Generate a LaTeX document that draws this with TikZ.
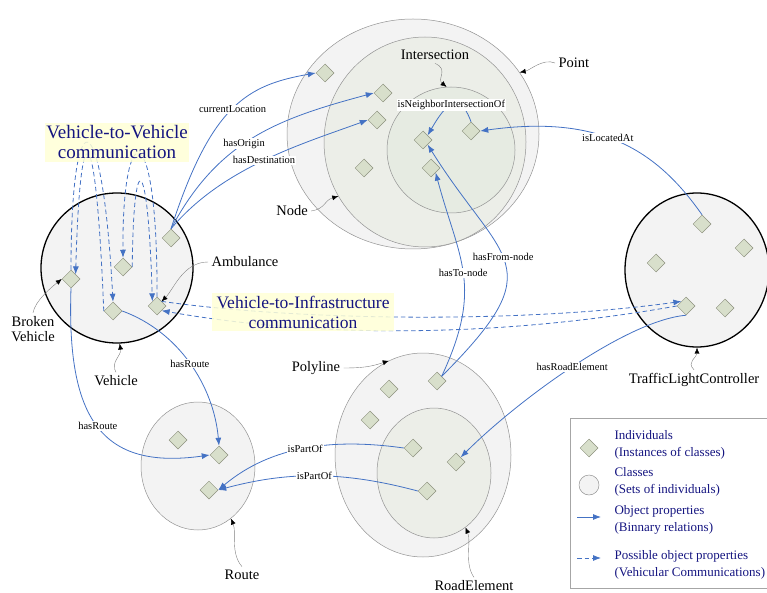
\documentclass[tikz,border=0pt]{standalone}
\usepackage{fontspec}
\setmainfont{Liberation Serif}
\usetikzlibrary{arrows.meta, shapes.geometric}

\definecolor{propblue}{RGB}{68,114,196}
\definecolor{commnavy}{RGB}{20,20,128}
\definecolor{indfill}{RGB}{216,223,203}
\definecolor{indedge}{RGB}{140,145,125}
\definecolor{clsfill}{RGB}{243,243,243}
\definecolor{subfill}{RGB}{236,238,232}
\definecolor{subsubfill}{RGB}{230,235,226}
\definecolor{notefill}{RGB}{255,255,214}

\begin{document}
\begin{tikzpicture}[x=1pt, y=1pt,
    cls/.style={draw=gray!85, line width=0.5pt, fill=#1, ellipse, inner sep=0pt},
    cls/.default=clsfill,
    bigcls/.style={draw=black, line width=1.3pt, fill=clsfill, ellipse, inner sep=0pt},
    indiv/.style={draw=indedge, line width=0.5pt, fill=indfill, diamond, inner sep=0pt, minimum width=18pt, minimum height=18pt},
    prop/.style={draw=propblue, line width=0.8pt, -{Latex[length=8pt, width=6pt]}},
    commprop/.style={prop, dash pattern=on 4.5pt off 3pt},
    proplabel/.style={font=\fontsize{10.5}{12}\selectfont, fill=white, inner sep=1pt},
    clslabel/.style={font=\fontsize{14.5}{15}\selectfont, align=center},
    pointer/.style={draw=gray, line width=0.4pt, -{Latex[color=black, length=6pt, width=5pt]}},
    commnote/.style={fill=notefill, fill opacity=0.85, text opacity=1, text=commnavy, align=center, inner sep=1pt},
    legtext/.style={text=commnavy, font=\fontsize{13}{17}\selectfont, align=left, anchor=west}
]
\useasboundingbox (0,0) rectangle (767,-593);

% --- Classes ---
\node[cls, minimum width=252, minimum height=230] (pointcls) at (413,-134) {};
\node[cls=subfill, minimum width=202, minimum height=210] (nodecls) at (425,-142) {};
\node[cls=subsubfill, minimum width=128, minimum height=126] (intercls) at (451,-150) {};
\node[bigcls, minimum width=152, minimum height=150] (vehiclecls) at (117,-268) {};
\node[cls, minimum width=114, minimum height=128] (routecls) at (198,-466) {};
\node[cls, minimum width=176, minimum height=204] (polycls) at (423,-455) {};
\node[cls=subfill, minimum width=114, minimum height=130] (roadcls) at (434,-473) {};
\node[bigcls, minimum width=144, minimum height=154] (tlccls) at (697,-270) {};

% --- Individuals ---
\node[indiv] (ptA) at (325,-73) {};
\node[indiv] (ndA) at (383,-93) {};
\node[indiv] (ndB) at (377,-120) {};
\node[indiv] (ndC) at (364,-168) {};
\node[indiv] (isA) at (423,-140) {};
\node[indiv] (isB) at (471,-131) {};
\node[indiv] (isC) at (431,-168) {};

\node[indiv] (vhA) at (171,-238) {};
\node[indiv] (vhB) at (123,-267) {};
\node[indiv] (vhBroken) at (71,-279) {};
\node[indiv] (vhC) at (113,-311) {};
\node[indiv] (vhAmb) at (157,-306) {};

\node[indiv] (rtA) at (178,-440) {};
\node[indiv] (rtB) at (219,-455) {};
\node[indiv] (rtC) at (209,-490) {};

\node[indiv] (plA) at (437,-381) {};
\node[indiv] (plB) at (389,-389) {};
\node[indiv] (plC) at (370,-420) {};
\node[indiv] (reA) at (413,-448) {};
\node[indiv] (reB) at (456,-462) {};
\node[indiv] (reC) at (427,-491) {};

\node[indiv] (tlA) at (702,-224) {};
\node[indiv] (tlB) at (744,-248) {};
\node[indiv] (tlC) at (656,-263) {};
\node[indiv] (tlD) at (686,-306) {};
\node[indiv] (tlE) at (725,-308) {};

% --- Object properties ---
\draw[prop] (vhA.north) .. controls +(72:130) and +(190:70) .. (ptA.west) node[proplabel, pos=0.5] {currentLocation};
\draw[prop] (vhA.north) .. controls +(62:100) and +(195:100) .. (ndA.west) node[proplabel, pos=0.45] {hasOrigin};
\draw[prop] (vhA.north) .. controls +(50:80) and +(200:70) .. (ndB.west) node[proplabel, pos=0.5] {hasDestination};
\draw[prop] (isB.north) .. controls +(110:35) and +(60:35) .. (isA.north east) node[proplabel, pos=0.5] {isNeighborIntersectionOf};
\draw[prop] (tlA.north) .. controls +(125:80) and +(8:120) .. (isB.east) node[proplabel, pos=0.55] {isLocatedAt};
\draw[prop] (plA.north east) .. controls +(65:100) and +(-75:90) .. (isC.south east) node[proplabel, pos=0.5] {hasTo-node};
\draw[prop] (plA.north east) .. controls +(45:160) and +(-58:140) .. (isA.south east) node[proplabel, pos=0.53] {hasFrom-node};
\draw[prop] (tlD.south) .. controls +(185:60) and +(45:80) .. (reB.north east) node[proplabel, pos=0.5] {hasRoadElement};
\draw[prop] (vhC.east) .. controls +(-20:60) and +(95:60) .. (rtB.north) node[proplabel, pos=0.5] {hasRoute};
\draw[prop] (vhBroken.south) .. controls +(-92:130) and +(188:110) .. (rtB.west) node[proplabel, pos=0.5] {hasRoute};
\draw[prop] (reA.west) .. controls +(172:70) and +(40:70) .. (rtC.east) node[proplabel, pos=0.5] {isPartOf};
\draw[prop] (reC.west) .. controls +(165:80) and +(15:70) .. (rtC.east) node[proplabel, pos=0.5] {isPartOf};

% --- Vehicular communications ---
\draw[commprop] (vhBroken.north) .. controls +(0,174) and +(-11,206) .. (vhC.north);
\draw[commprop] (vhC.west) .. controls +(-8,202) and +(4.5,165.5) .. (vhBroken.north east);
\draw[commprop] (vhAmb.north) .. controls +(1,183) and +(-1,144) .. (vhB.north);
\draw[commprop] (vhB.east) .. controls +(1,119) and +(-4.5,153.5) .. (vhAmb.north west);
\draw[commprop] (vhAmb.north east) .. controls +(-8:150) and +(188:150) .. (tlD.north west);
\draw[commprop] (tlD.west) .. controls +(190:170) and +(-10:170) .. (vhAmb.south east);

\node[commnote, font=\fontsize{19}{20}\selectfont, minimum width=144, minimum height=39] (v2vnote) at (117,-142.5) {Vehicle-to-Vehicle\\communication};
\node[commnote, font=\fontsize{17.5}{20}\selectfont, minimum width=182, minimum height=38] (v2inote) at (303,-312) {Vehicle-to-Infrastructure\\communication};

% --- Class labels ---
\node[clslabel, anchor=west] (pointlbl) at (555,-63) {Point};
\draw[pointer] (pointlbl.west) .. controls +(-12,5) and +(10,2) .. (pointcls.30);
\node[clslabel] (interlbl) at (435,-55) {Intersection};
\draw[pointer] (interlbl.south) .. controls +(14,-6) and +(-10,8) .. (intercls.94);
\node[clslabel] (nodelbl) at (292,-211) {Node};
\draw[pointer] (nodelbl.east) .. controls +(14,2) and +(-14,-4) .. (nodecls.212);
\node[clslabel] (amblbl) at (245,-262) {Ambulance};
\draw[pointer] (amblbl.west) .. controls +(-25,0) and +(12,12) .. (vhAmb.north east);
\node[clslabel] (brokenlbl) at (33,-329) {Broken\\Vehicle};
\draw[pointer] (brokenlbl.north) .. controls +(2,12) and +(-10,-8) .. (vhBroken.west);
\node[clslabel] (vehiclelbl) at (116,-381) {Vehicle};
\draw[pointer] (vehiclelbl.north) .. controls +(-6,10) and +(2,-12) .. (vehiclecls.272);
\node[clslabel] (routelbl) at (242,-575) {Route};
\draw[pointer] (routelbl.north) .. controls +(-12,14) and +(6,-14) .. (routecls.-58);
\node[clslabel] (polylbl) at (316,-368) {Polyline};
\draw[pointer] (polylbl.east) .. controls +(18,0) and +(-18,-6) .. (polycls.110);
\node[clslabel] (roadlbl) at (474,-586) {RoadElement};
\draw[pointer] (roadlbl.north) .. controls +(-10,14) and +(6,-14) .. (roadcls.-60);
\node[clslabel] (tlclbl) at (694,-380) {TrafficLightController};
\draw[pointer] (tlclbl.north) .. controls +(-8,8) and +(0,-10) .. (tlccls.270);

% --- Legend ---
\draw[draw=gray!70, line width=0.5pt] (570,-418) rectangle (790,-588);
\node[indiv] (legind) at (589,-448) {};
\node[legtext] (legindtxt) at (611,-444.5) {Individuals\\(Instances of classes)};
\node[cls, minimum width=20, minimum height=20] (legcls) at (589,-485) {};
\node[legtext] (legclstxt) at (611,-482) {Classes\\(Sets of individuals)};
\coordinate (legpropA) at (577,-517);
\coordinate (legpropB) at (601,-517);
\draw[prop] (legpropA) -- (legpropB);
\node[legtext] (legproptxt) at (611,-520) {Object properties\\(Binnary relations)};
\coordinate (legcommA) at (577,-558);
\coordinate (legcommB) at (601,-558);
\draw[commprop] (legcommA) -- (legcommB);
\node[legtext] (legcommtxt) at (611,-564.5) {Possible object properties\\(Vehicular Communications)};

\end{tikzpicture}
\end{document}
